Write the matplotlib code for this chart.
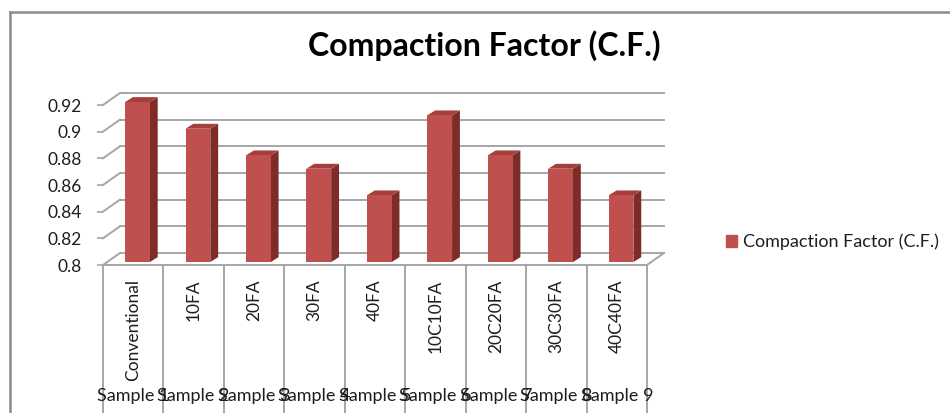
import matplotlib.pyplot as plt
from matplotlib.lines import Line2D
from matplotlib.patches import Patch

# Compaction factor per concrete mix
mixes = ['Conventional', '10FA', '20FA', '30FA', '40FA',
         '10C10FA', '20C20FA', '30C30FA', '40C40FA']
samples = ['Sample 1', 'Sample 2', 'Sample 3', 'Sample 4', 'Sample 5',
           'Sample 6', 'Sample 7', 'Sample 8', 'Sample 9']
cf_values = [0.92, 0.90, 0.88, 0.87, 0.85, 0.91, 0.88, 0.87, 0.85]
series_name = 'Compaction Factor (C.F.)'
y_ticks = [0.8, 0.82, 0.84, 0.86, 0.88, 0.9, 0.92]

plt.rcParams['font.family'] = ['Lato', 'DejaVu Sans']

front = '#C0504D'
side = '#7D2C2A'
top = '#A43F3B'
grid_col = '#A6A6A6'
txt = '#1E1E1E'

W, H = 950, 413
fig = plt.figure(figsize=(W / 100, H / 100), dpi=100)

# front face of the plot box in pixels: x 103..647, y 105..265 (from top)
ax = fig.add_axes([103 / W, (H - 265) / H, 544 / W, 160 / H])
ax.set_xlim(0, 9)
ax.set_ylim(0.8, 0.92)
for s in ax.spines.values():
    s.set_visible(False)
ax.set_xticks([])
ax.set_yticks(y_ticks)
ax.set_yticklabels(['0.8', '0.82', '0.84', '0.86', '0.88', '0.9', '0.92'])
ax.tick_params(axis='y', length=4.3, width=1.2, color=grid_col, pad=11,
               labelsize=12.5, labelcolor=txt)

# pseudo-3d depth (in data units)
ddx = 0.28
ddy = 0.009

# back wall gridlines and left wall diagonals
for v in y_ticks:
    ax.plot([ddx, 9 + ddx], [v + ddy, v + ddy], color=grid_col, lw=1.4,
            clip_on=False, zorder=1)
    ax.plot([0, ddx], [v, v + ddy], color=grid_col, lw=1.4,
            clip_on=False, zorder=1)
# floor edges
ax.plot([0, 9, 9 + ddx], [0.8, 0.8, 0.8 + ddy], color=grid_col, lw=1.4,
        clip_on=False, zorder=1)

# bars as simple extruded boxes
bw = 0.41
bdx = 0.13
bdy = 0.0037
off_x = 0.07
off_y = 0.0022
for i, v in enumerate(cf_values):
    x0 = i + 0.5 - bw / 2 + off_x
    x1 = x0 + bw
    y0 = 0.8 + off_y
    y1 = v + off_y
    ax.fill([x1, x1 + bdx, x1 + bdx, x1], [y0, y0 + bdy, y1 + bdy, y1],
            color=side, lw=0, clip_on=False, zorder=3)
    ax.fill([x0, x1, x1 + bdx, x0 + bdx], [y1, y1, y1 + bdy, y1 + bdy],
            color=top, lw=0, clip_on=False, zorder=3)
    ax.fill([x0, x1, x1, x0], [y0, y0, y1, y1],
            color=front, lw=0, clip_on=False, zorder=4)

# category labels and separators below the floor
tr = ax.get_xaxis_transform()
for k in range(10):
    ax.plot([k, k], [0, -0.93], color=grid_col, lw=1.4, transform=tr,
            clip_on=False)
for i, (m, s) in enumerate(zip(mixes, samples)):
    ax.text(i + 0.5, -0.09, m, rotation=90, ha='center', va='top',
            fontsize=12.5, color=txt, transform=tr)
    ax.text(i + 0.5, -0.82, s, ha='center', va='center',
            fontsize=13, color=txt, transform=tr)

fig.text(484 / W, (H - 46) / H, 'Compaction Factor (C.F.)', ha='center',
         va='center', fontsize=23, fontweight='bold', color='black')

fig.legend(handles=[Patch(color=front, label=series_name)],
           loc='center left', bbox_to_anchor=(726 / W, (H - 242) / H),
           frameon=False, fontsize=13, handlelength=0.6, handleheight=0.6,
           handletextpad=0.35, borderaxespad=0, borderpad=0,
           labelcolor=txt)

# chart area border
fig.add_artist(Line2D([10 / W, 10 / W], [0, (H - 12) / H], color='#8C8C8C',
                      lw=1.8, transform=fig.transFigure))
fig.add_artist(Line2D([10 / W, 1], [(H - 12) / H, (H - 12) / H],
                      color='#8C8C8C', lw=1.8, transform=fig.transFigure))

fig.savefig('out.png', dpi=100)
